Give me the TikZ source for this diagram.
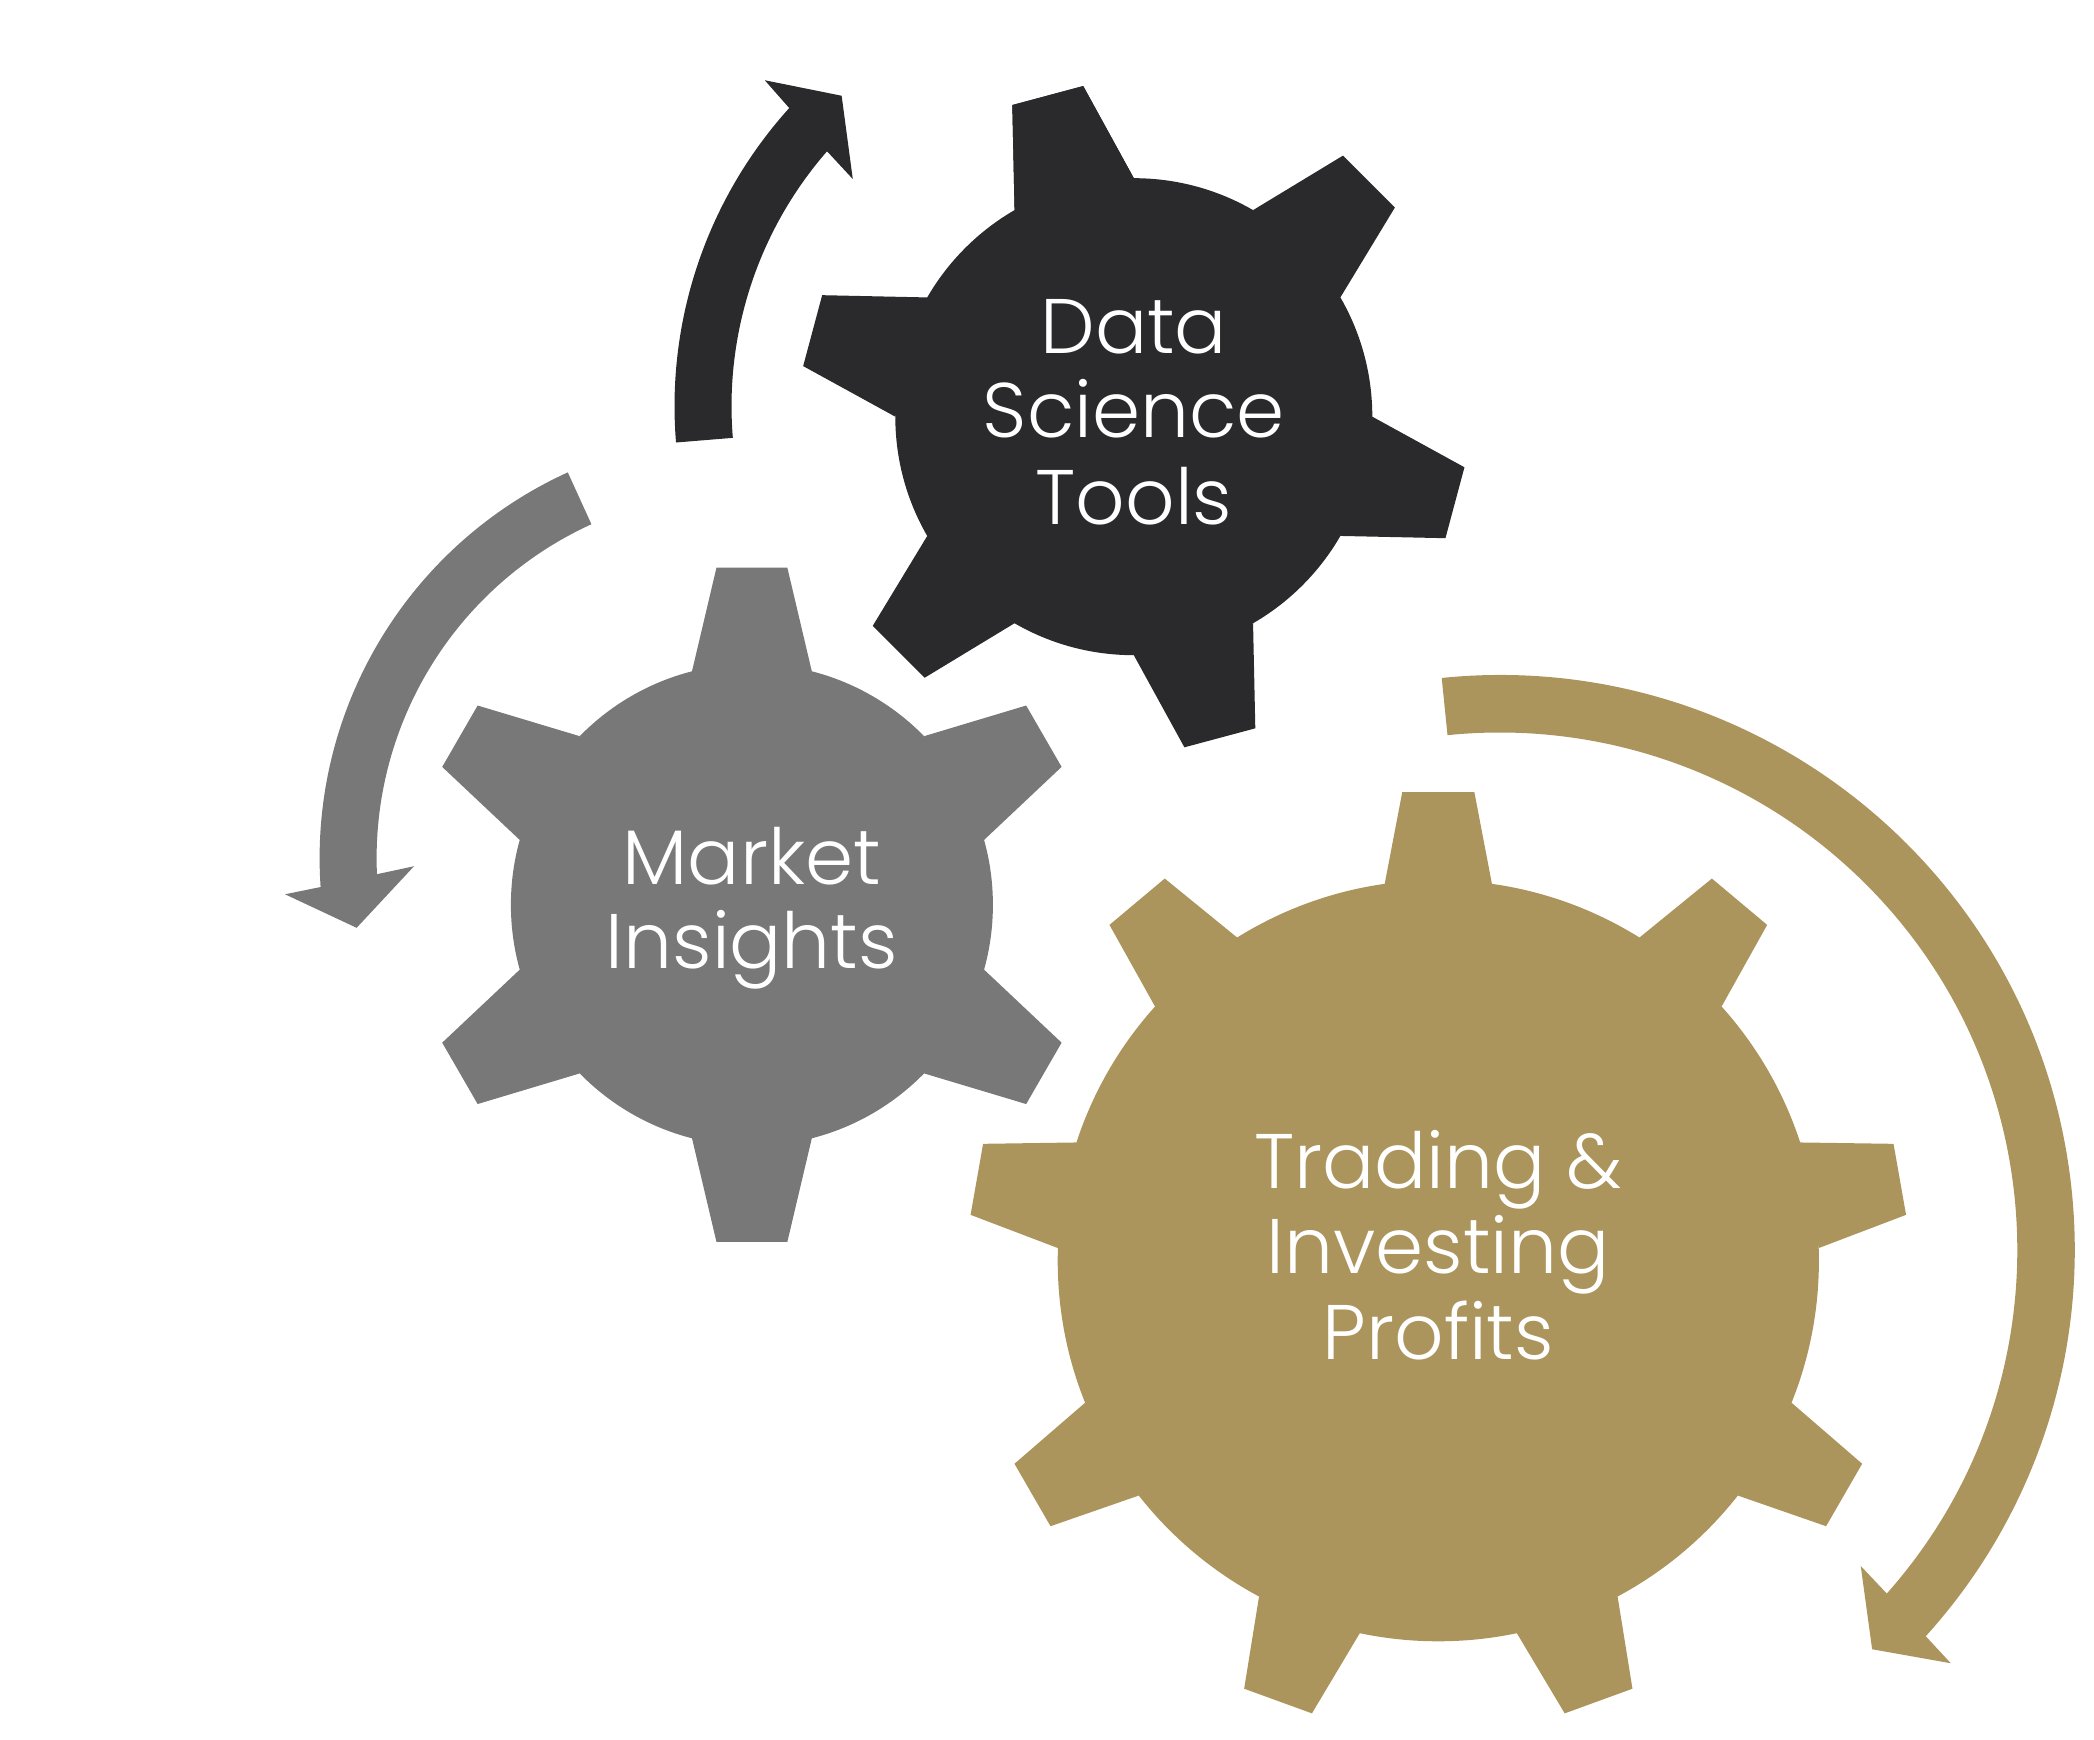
\documentclass[tikz,border=0pt]{standalone}
\usepackage{fontspec}
\setmainfont{Poppins}[UprightFont=* Light]
\definecolor{gdark}{HTML}{2A2A2C}
\definecolor{ggray}{HTML}{787878}
\definecolor{ggold}{HTML}{AC955C}
\begin{document}
\begin{tikzpicture}[x=0.01cm,y=0.01cm,
  lbl/.style={text=white,inner sep=0pt,anchor=base,font=\fontsize{22pt}{26pt}\selectfont}]
\useasboundingbox (0,0) rectangle (2094,1739);
% ---------- dark gear ----------
\coordinate (cd) at (1133.8,1322.3);
\begin{scope}[shift={(cd)}]
  \fill[gdark] (0,0) circle[radius=238.5];
  \foreach \a in {105,165,...,465}
    \fill[gdark] ({\a-15}:238.5) -- ({\a-6.3}:334.5) -- ({\a+6.3}:334.5) -- ({\a+15}:238.5) -- cycle;
\end{scope}
% ---------- gray gear ----------
\coordinate (cg) at (751.9,834.2);
\begin{scope}[shift={(cg)}]
  \fill[ggray] (0,0) circle[radius=241];
  \foreach \a in {30,90,...,330}
    \fill[ggray] ({\a-14.4}:241) -- ({\a-6}:339) -- ({\a+6}:339) -- ({\a+14.4}:241) -- cycle;
\end{scope}
% ---------- gold gear ----------
\coordinate (co) at (1438.3,478.3);
\begin{scope}[shift={(co)}]
  \fill[ggold] (0,0) circle[radius=380.6];
  \foreach \a in {90,130,...,410}
    \fill[ggold] ({\a-8.1}:380.6) -- ({\a-4.4}:470) -- ({\a+4.4}:470) -- ({\a+8.1}:380.6) -- cycle;
\end{scope}
% ---------- dark arrow ----------
\begin{scope}[shift={(1119.1,1332.9)}]
  \fill[gdark] (184.7:444.6) arc[start angle=184.7,end angle=137.9,radius=444.6]
    -- (137.4:481.4) -- (131.8:416.3) -- (139.55:350) -- (138.9:387.6)
    arc[start angle=138.9,end angle=184.7,radius=387.6] -- cycle;
\end{scope}
% ---------- gray arrow ----------
\begin{scope}[shift={(743.6,880.8)}]
  \fill[ggray] (114.5:424) arc[start angle=114.5,end angle=183.9,radius=424]
    -- (184.5:460) -- (190.2:393.2) -- (181.4:329.7) -- (182.5:367)
    arc[start angle=182.5,end angle=114.5,radius=367] -- cycle;
\end{scope}
% ---------- gold arrow ----------
\begin{scope}[shift={(1499.8,489)}]
  \fill[ggold] (95.8:575) arc[start angle=95.8,end angle=-42.2,radius=575]
    -- (-42.5:611.7) -- (-47:545.9) -- (-41.2:479.7) -- (-41.6:517.5)
    arc[start angle=-41.6,end angle=95.8,radius=517.5] -- cycle;
\end{scope}
% ---------- labels ----------
\node[lbl] (d1) at (1133.8,1385.1) {Data};
\node[lbl] (d2) at (1133.8,1301) {Science};
\node[lbl] (d3) at (1133.8,1214.1) {Tools};
\node[lbl] (m1) at (751.9,854.9) {Market};
\node[lbl] (m2) at (751.9,770.8) {Insights};
\node[lbl] (t1) at (1438.3,550.4) {Trading \&};
\node[lbl] (t2) at (1438.3,465) {Investing};
\node[lbl] (t3) at (1438.3,379.5) {Profits};
\end{tikzpicture}
\end{document}
